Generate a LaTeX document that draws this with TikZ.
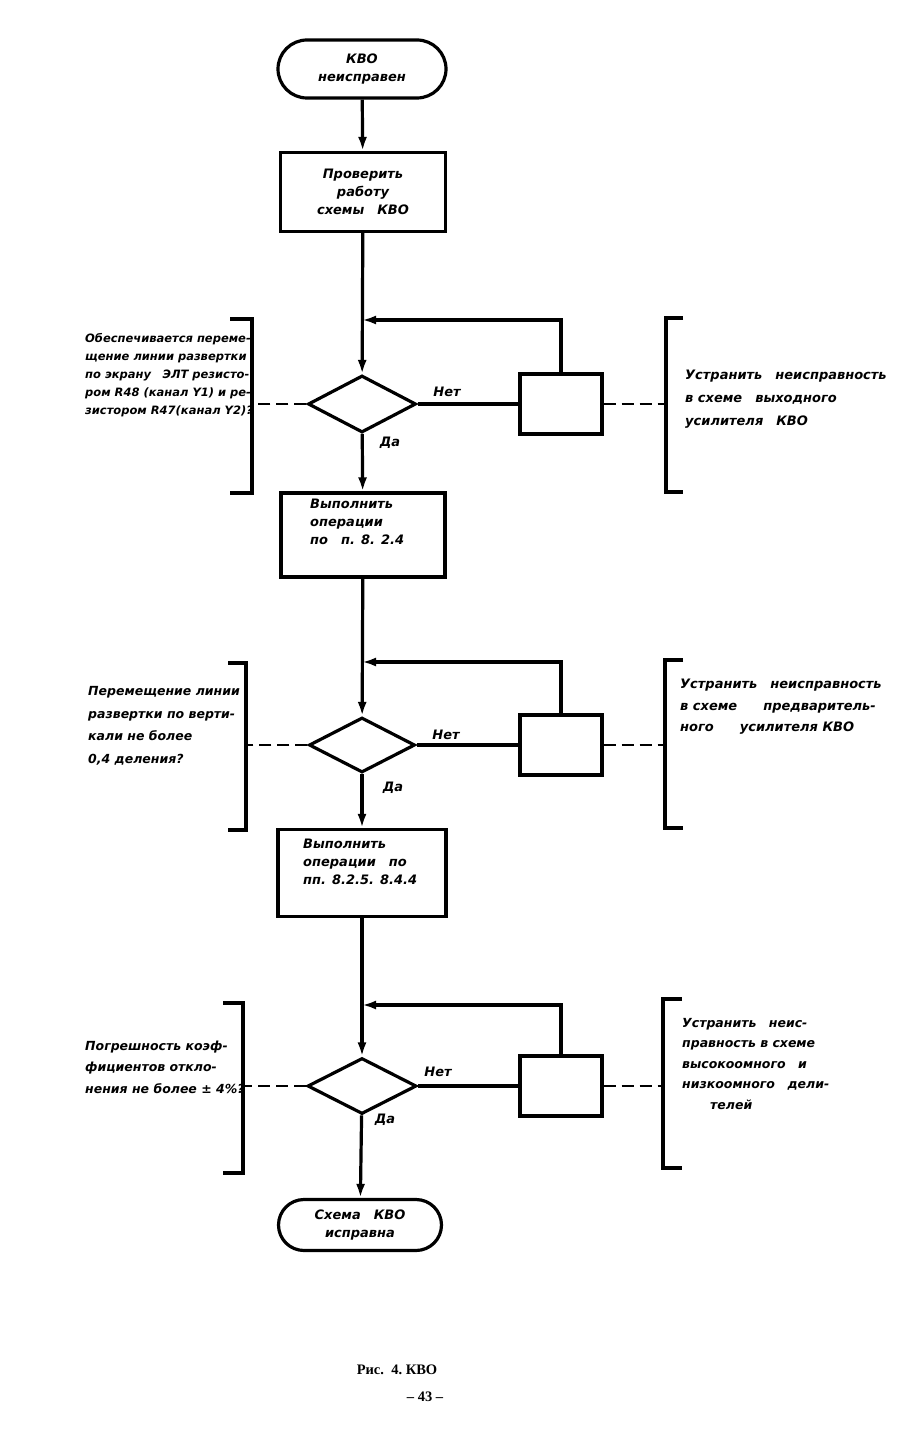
\documentclass[tikz,border=0pt]{standalone}
\usepackage{fontspec}
\setmainfont{DejaVu Sans}
\newfontfamily\typefont{Liberation Serif}
\usetikzlibrary{shapes.geometric,shapes.misc,arrows.meta}

\tikzset{
    hand/.style={font=\fontsize{13}{18}\selectfont\bfseries\itshape},
    term/.style={rounded rectangle, draw, line width=3.2pt, hand, align=center, inner sep=0pt},
    box/.style={rectangle, draw, line width=3.2pt, inner sep=0pt},
    decision/.style={diamond, draw, line width=3.2pt, inner sep=0pt, aspect=1.9},
    fixbox/.style={rectangle, draw, line width=3.2pt, minimum width=82pt, minimum height=60pt},
    note/.style={hand, align=left, inner sep=0pt},
    flow/.style={line width=3.2pt},
    arr/.style={line width=3.2pt, -{Latex[length=14pt,width=9pt]}},
    link/.style={line width=2.4pt, dash pattern=on 12pt off 6pt},
    bracket/.style={line width=3.2pt}
}

\begin{document}
\begin{tikzpicture}[x=1pt,y=-1pt]
    \useasboundingbox (0,0) rectangle (900,1431);

    % Start and first check
    \node[term, minimum width=168pt, minimum height=58pt] (start) at (362,69) {КВО\\неисправен};
    \node[box, minimum width=165pt, minimum height=79pt, hand, align=center] (check) at (363,192) {Проверить\\работу\\схемы\quad КВО};

    % Step 1: output amplifier
    \node[decision, minimum width=108pt, minimum height=57pt] (dec1) at (362,404) {};
    \node[fixbox] (fix1) at (561,404) {};
    \coordinate (j1) at (362,320);
    \node[box, minimum width=164pt, minimum height=84pt] (op1) at (363,535) {};
    \node[note, anchor=west] (op1txt) at (310,522) {Выполнить\\операции\\по\quad п. 8. 2.4};

    % Step 2: preamplifier
    \node[decision, minimum width=106pt, minimum height=55pt] (dec2) at (362,745) {};
    \node[fixbox] (fix2) at (561,745) {};
    \coordinate (j2) at (362,662);
    \node[box, minimum width=168pt, minimum height=87pt] (op2) at (362,873) {};
    \node[note, anchor=west] (op2txt) at (303,862) {Выполнить\\операции\quad по\\пп. 8.2.5. 8.4.4};

    % Step 3: dividers
    \node[decision, minimum width=109pt, minimum height=56pt] (dec3) at (362,1086) {};
    \node[fixbox] (fix3) at (561,1086) {};
    \coordinate (j3) at (362,1005);
    \node[term, minimum width=163pt, minimum height=51pt] (stop) at (360,1225) {Схема\quad КВО\\исправна};

    % Main flow
    \draw[arr] (start) -- (check);
    \draw[arr] (check) -- (dec1);
    \draw[arr] (dec1) -- (op1);
    \draw[arr] (op1) -- (dec2);
    \draw[arr] (dec2) -- (op2);
    \draw[arr] (op2) -- (dec3);
    \draw[arr] (dec3) -- (stop);

    % "No" branches and returns
    \draw[flow] (dec1.east) -- (fix1.west);
    \draw[flow] (dec2.east) -- (fix2.west);
    \draw[flow] (dec3.east) -- (fix3.west);
    \draw[arr] (fix1.north) |- (j1);
    \draw[arr] (fix2.north) |- (j2);
    \draw[arr] (fix3.north) |- (j3);

    \node[hand] (no1) at (447,392) {Нет};
    \node[hand] (yes1) at (390,443) {Да};
    \node[hand] (no2) at (446,735) {Нет};
    \node[hand] (yes2) at (393,788) {Да};
    \node[hand] (no3) at (438,1072) {Нет};
    \node[hand] (yes3) at (385,1120) {Да};

    % Left brackets with questions
    \draw[bracket] (230,319) -- (252,319) -- (252,493) -- (230,493);
    \coordinate (lb1) at (252,404);
    \draw[link] (dec1.west) -- (lb1);
    \node[note, font=\fontsize{11.5}{18}\selectfont\bfseries\itshape, anchor=west] (q1) at (85,375)
        {Обеспечивается переме-\\щение линии развертки\\по экрану\quad ЭЛТ резисто-\\ром R48 (канал Y1) и ре-\\зистором R47(канал Y2)?};

    \draw[bracket] (228,663) -- (246,663) -- (246,830) -- (228,830);
    \coordinate (lb2) at (246,745);
    \draw[link] (dec2.west) -- (lb2);
    \node[note, font=\fontsize{12.5}{22.5}\selectfont\bfseries\itshape, anchor=west] (q2) at (88,726)
        {Перемещение линии\\развертки по верти-\\кали не более\\0,4 деления?};

    \draw[bracket] (223,1003) -- (243,1003) -- (243,1173) -- (223,1173);
    \coordinate (lb3) at (243,1086);
    \draw[link] (dec3.west) -- (lb3);
    \node[note, font=\fontsize{12.5}{21.5}\selectfont\bfseries\itshape, anchor=west] (q3) at (85,1067)
        {Погрешность коэф-\\фициентов откло-\\нения не более ± 4\%?};

    % Right brackets with remedies
    \draw[bracket] (683,318) -- (666,318) -- (666,492) -- (683,492);
    \coordinate (rb1) at (666,404);
    \draw[link] (fix1.east) -- (rb1);
    \node[note, font=\fontsize{13}{23}\selectfont\bfseries\itshape, anchor=west] (r1) at (685,399)
        {Устранить\quad неисправность\\в схеме\quad выходного\\усилителя\quad КВО};

    \draw[bracket] (683,660) -- (665,660) -- (665,828) -- (683,828);
    \coordinate (rb2) at (665,745);
    \draw[link] (fix2.east) -- (rb2);
    \node[note, font=\fontsize{13}{21.5}\selectfont\bfseries\itshape, anchor=west] (r2) at (680,707)
        {Устранить\quad неисправность\\в схеме\qquad предваритель-\\ного\qquad усилителя КВО};

    \draw[bracket] (682,999) -- (663,999) -- (663,1168) -- (682,1168);
    \coordinate (rb3) at (663,1086);
    \draw[link] (fix3.east) -- (rb3);
    \node[note, font=\fontsize{12.5}{20.5}\selectfont\bfseries\itshape, anchor=west] (r3) at (682,1064)
        {Устранить\quad неис-\\правность в схеме\\высокоомного\quad и\\низкоомного\quad дели-\\\hspace*{28pt}телей};

    % Caption
    \node[font=\typefont\bfseries\fontsize{14.5}{16}\selectfont] (cap) at (397,1370) {Рис.\ \ 4.\ КВО};
    \node[font=\typefont\bfseries\fontsize{14.5}{16}\selectfont] (page) at (425,1397) {– 43 –};
\end{tikzpicture}
\end{document}
